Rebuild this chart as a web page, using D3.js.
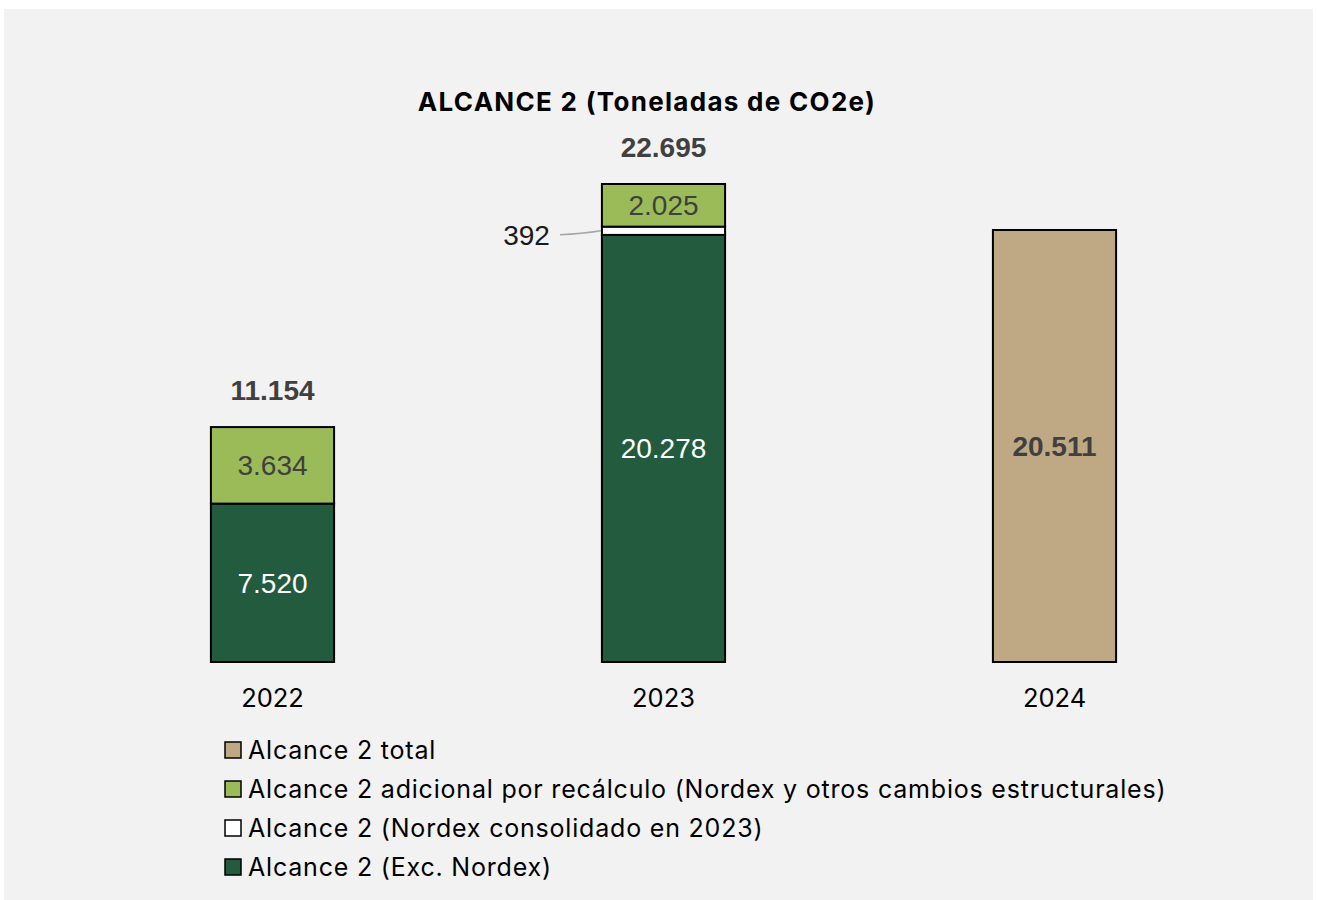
<!DOCTYPE html>
<html><head><meta charset="utf-8">
<script src="https://cdn.jsdelivr.net/npm/d3@7"></script>
<style>html,body{margin:0;padding:0;background:#fff;}</style>
</head><body>
<svg id="c" width="1317" height="900"></svg>
<script>
const years = ["2022", "2023", "2024"];
const excNordex = [7520, 20278, 0];
const nordexConsolidado = [0, 392, 0];
const adicional = [3634, 2025, 0];
const total = [0, 0, 20511];
const seriesNames = ["Alcance 2 (Exc. Nordex)", "Alcance 2 (Nordex consolidado en 2023)", "Alcance 2 adicional por recálculo (Nordex y otros cambios estructurales)", "Alcance 2 total"];
const legendOrder = [3, 2, 1, 0];
const title = "ALCANCE 2 (Toneladas de CO2e)";
const fmt = v => d3.format(",")(v).replace(/,/g, ".");

const keys = ["exc", "nord", "adic", "tot"];
const colors = {exc: "#235B3F", nord: "#FFFFFF", adic: "#9BBB59", tot: "#BFA984"};
const labelColors = {exc: "#FFFFFF", nord: "#1a1a1a", adic: "#404040", tot: "#404040"};
const rows = years.map((y, i) => ({year: y, exc: excNordex[i], nord: nordexConsolidado[i], adic: adicional[i], tot: total[i]}));

const NUMFONT = "'Liberation Sans', Arial, sans-serif";
const TXTFONT = "Inter, 'Open Sans', sans-serif";
const NUMSIZE = 28;

const svg = d3.select("#c");
svg.append("rect").attr("x", 4).attr("y", 9).attr("width", 1309).attr("height", 891).attr("fill", "#F2F2F2");

const x = d3.scaleBand().domain(years).range([77, 1250]).paddingInner(0.685).paddingOuter(0.3425);
const sums = rows.map(r => keys.reduce((s, k) => s + r[k], 0));
const y = d3.scaleLinear().domain([0, d3.max(sums)]).range([662, 184]);

svg.append("text").attr("x", 647).attr("y", 111).attr("text-anchor", "middle")
  .attr("font-family", TXTFONT).attr("font-weight", "700")
  .attr("font-size", 26).attr("letter-spacing", 1.3).attr("fill", "#000").text(title);

const stack = d3.stack().keys(keys)(rows);
const g = svg.append("g");
stack.forEach(layer => {
  const k = layer.key;
  layer.forEach((d, i) => {
    const v = d[1] - d[0];
    if (v <= 0) return;
    const bx = x(rows[i].year), bw = x.bandwidth();
    g.append("rect").attr("x", bx).attr("y", y(d[1])).attr("width", bw)
      .attr("height", y(d[0]) - y(d[1])).attr("fill", colors[k])
      .attr("stroke", "#000").attr("stroke-width", 2);
  });
});
// segment labels
stack.forEach(layer => {
  const k = layer.key;
  layer.forEach((d, i) => {
    const v = d[1] - d[0];
    if (v <= 0) return;
    const cx = x(rows[i].year) + x.bandwidth() / 2;
    const cy = (y(d[0]) + y(d[1])) / 2;
    if (k === "nord") {
      g.append("path").attr("d", `M${x(rows[i].year) - 42},${cy + 4} Q${x(rows[i].year) - 20},${cy + 3} ${x(rows[i].year) - 1},${cy}`)
        .attr("fill", "none").attr("stroke", "#A6A6A6").attr("stroke-width", 1.5);
      g.append("text").attr("x", x(rows[i].year) - 52).attr("y", cy + 4).attr("dy", "0.35em")
        .attr("text-anchor", "end").attr("font-family", NUMFONT)
        .attr("font-size", NUMSIZE).attr("fill", labelColors[k]).text(fmt(v));
    } else {
      g.append("text").attr("x", cx).attr("y", cy).attr("dy", "0.35em")
        .attr("text-anchor", "middle").attr("font-family", NUMFONT)
        .attr("font-weight", k === "tot" ? "700" : "400")
        .attr("font-size", NUMSIZE).attr("fill", labelColors[k]).text(fmt(v));
    }
  });
});
// totals above stacked bars
rows.forEach((r, i) => {
  if (r.tot > 0) return;
  g.append("text").attr("x", x(r.year) + x.bandwidth() / 2).attr("y", y(sums[i]) - 27)
    .attr("text-anchor", "middle").attr("font-family", NUMFONT)
    .attr("font-weight", "700").attr("font-size", NUMSIZE).attr("fill", "#404040").text(fmt(sums[i]));
});

// x axis labels
const xAxis = svg.append("g").attr("transform", "translate(0,662)")
  .call(d3.axisBottom(x).tickSize(0).tickPadding(27));
xAxis.select(".domain").remove();
xAxis.selectAll("text").attr("font-family", TXTFONT).attr("font-size", 25.5).attr("fill", "#000");

// legend
const lg = svg.append("g");
legendOrder.forEach((si, j) => {
  const ly = 750 + j * 39;
  lg.append("rect").attr("x", 225).attr("y", ly - 8).attr("width", 16).attr("height", 16)
    .attr("fill", colors[keys[si]]).attr("stroke", "#000").attr("stroke-width", 1.5);
  lg.append("text").attr("x", 248).attr("y", ly).attr("dy", "0.36em")
    .attr("font-family", TXTFONT).attr("font-size", 25).attr("letter-spacing", 0.8).attr("fill", "#000")
    .text(seriesNames[si]);
});
</script>
</body></html>
